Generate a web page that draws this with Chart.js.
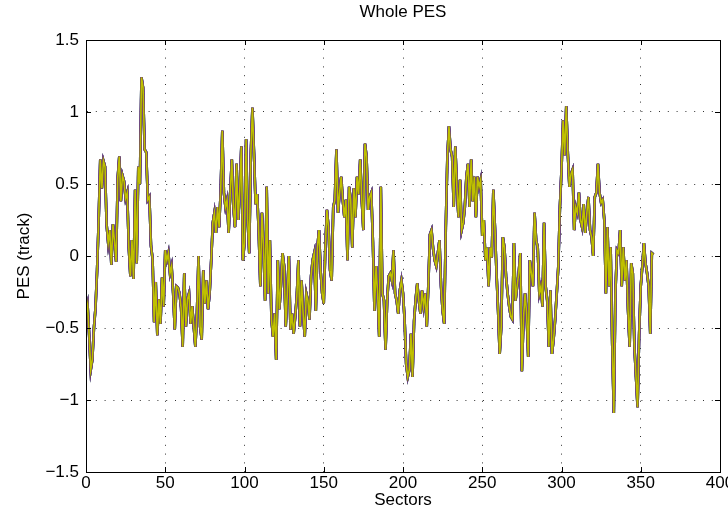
<!DOCTYPE html>
<html>
<head>
<meta charset="utf-8">
<script src="https://cdn.jsdelivr.net/npm/chart.js"></script>
<style>
  body { margin: 0; background: #fff; }
  #wrap { width: 728px; height: 529px; }
</style>
</head>
<body>
<div id="wrap"><canvas id="pes" width="728" height="529"></canvas></div>
<script>
// PES per sector (track units)
const pesTrack = [
  -0.40, -0.34, -0.55, -0.79, -0.72, -0.50, -0.36, -0.10, 0.25, 0.67,
  0.47, 0.66, 0.62, 0.22, 0.09, 0.18, -0.06, 0.22, 0.10, -0.04,
  0.54, 0.69, 0.38, 0.56, 0.52, 0.40, 0.44, 0.06, -0.14, 0.11,
  -0.16, 0.46, -0.05, 0.62, 0.50, 1.24, 1.17, 0.74, 0.72, 0.39,
  0.41, 0.07, -0.02, -0.46, -0.18, -0.55, -0.30, -0.47, -0.15, -0.35,
  0.04, -0.03, 0.02, -0.12, -0.07, -0.26, -0.51, -0.21, -0.22, -0.26,
  -0.36, -0.63, -0.12, -0.49, -0.30, -0.26, -0.47, -0.35, -0.49, -0.63,
  -0.40, 0.00, -0.49, -0.58, -0.10, -0.33, -0.17, -0.37, -0.26, -0.03,
  0.23, 0.30, 0.16, 0.34, 0.20, 0.46, 0.87, 0.44, 0.34, 0.39,
  0.16, 0.44, 0.67, 0.34, 0.20, 0.64, 0.25, 0.45, 0.76, -0.03,
  0.09, 0.81, 0.25, 0.02, 0.71, 1.03, 0.71, 0.36, 0.43, 0.16,
  -0.21, 0.30, 0.06, -0.31, 0.48, -0.26, 0.11, -0.44, -0.56, -0.40,
  -0.72, -0.03, -0.37, -0.20, 0.02, -0.07, -0.49, -0.26, 0.00, -0.51,
  -0.40, -0.54, -0.42, -0.28, -0.03, -0.49, -0.17, -0.40, -0.56, -0.26,
  -0.31, -0.44, -0.14, -0.03, 0.02, -0.38, 0.06, 0.18, -0.10, -0.26,
  -0.33, 0.06, 0.32, 0.20, -0.10, -0.17, 0.34, 0.39, 0.74, 0.30,
  0.44, 0.55, 0.39, 0.27, 0.39, -0.03, 0.48, 0.39, 0.06, 0.47,
  0.27, 0.55, 0.43, 0.67, 0.39, 0.18, 0.78, 0.69, 0.32, 0.41,
  0.44, 0.10, -0.38, -0.07, -0.26, -0.56, 0.48, -0.26, -0.31, -0.65,
  -0.31, -0.14, -0.12, -0.17, 0.04, -0.26, -0.31, -0.40, -0.24, -0.17,
  -0.26, -0.44, -0.75, -0.84, -0.79, -0.54, -0.84, -0.45, -0.30, -0.19,
  -0.31, -0.40, -0.24, -0.35, -0.26, -0.49, -0.20, 0.15, 0.18, 0.05,
  -0.03, -0.07, 0.02, 0.11, -0.21, -0.38, -0.47, 0.20, 0.69, 0.90,
  0.74, 0.69, 0.34, 0.76, 0.48, 0.27, 0.53, 0.18, 0.23, 0.34,
  0.55, 0.64, 0.34, 0.67, 0.38, 0.55, 0.27, 0.55, 0.48, 0.53,
  0.14, 0.25, -0.03, 0.06, -0.21, 0.06, -0.01, 0.46, 0.20, -0.12,
  -0.38, -0.68, -0.49, 0.13, 0.06, -0.14, -0.26, -0.35, -0.42, -0.44,
  0.09, -0.31, -0.21, -0.12, 0.02, -0.80, -0.44, -0.26, -0.40, -0.70,
  -0.03, -0.12, -0.21, 0.30, 0.11, 0.06, -0.26, -0.21, -0.35, 0.23,
  -0.21, -0.31, -0.63, -0.24, -0.68, -0.58, -0.44, -0.26, -0.07, 0.34,
  0.60, 0.94, 0.70, 1.04, 0.71, 0.48, 0.57, 0.60, 0.18, 0.34,
  0.30, 0.44, 0.25, 0.20, 0.36, 0.16, 0.30, 0.41, 0.18, 0.13,
  0.00, 0.41, 0.44, 0.64, 0.44, 0.37, 0.39, 0.25, -0.26, 0.20,
  -0.21, 0.06, -0.61, -1.09, -0.26, 0.04, 0.02, 0.18, -0.21, 0.06,
  -0.17, -0.03, -0.38, -0.63, -0.05, -0.12, -0.63, -0.84, -1.05, -0.54,
  -0.21, -0.07, 0.09, -0.05, -0.12, -0.21, -0.54, 0.02, 0.01
];

// one line per revolution, MATLAB default colour order (top one first)
const revColors = ['#bfbf00', '#404040', '#bf00bf', '#00bfbf', '#ff0000', '#008000', '#0000ff'];
const revWidths = [1.6, 2.1, 2.4, 2.6, 2.6, 2.6, 2.6];

const xTicks = [0, 50, 100, 150, 200, 250, 300, 350, 400];
const yTicks = [-1.5, -1, -0.5, 0, 0.5, 1, 1.5];

const font = { family: 'Liberation Sans, Arial, sans-serif', size: 17 };

const points = pesTrack.map((v, i) => ({ x: i, y: v }));

// full box + inward tick marks like a matlab axes
const boxPlugin = {
  id: 'box',
  afterDraw(chart) {
    const { ctx, chartArea: a, scales } = chart;
    ctx.save();
    ctx.strokeStyle = '#000';
    ctx.lineWidth = 1;
    ctx.beginPath();
    xTicks.forEach(t => {
      const px = Math.round(scales.x.getPixelForValue(t)) + 0.5;
      ctx.moveTo(px, a.bottom); ctx.lineTo(px, a.bottom - 5);
      ctx.moveTo(px, a.top); ctx.lineTo(px, a.top + 5);
    });
    yTicks.forEach(t => {
      const py = Math.round(scales.y.getPixelForValue(t)) + 0.5;
      ctx.moveTo(a.left, py); ctx.lineTo(a.left + 5, py);
      ctx.moveTo(a.right, py); ctx.lineTo(a.right - 5, py);
    });
    ctx.stroke();
    ctx.strokeRect(Math.round(a.left) + 0.5, Math.round(a.top) + 0.5,
      Math.round(a.right - a.left), Math.round(a.bottom - a.top));
    ctx.restore();
  }
};

new Chart(document.getElementById('pes').getContext('2d'), {
  type: 'line',
  data: {
    datasets: revColors.map((c, k) => ({
      data: points,
      borderColor: c,
      borderWidth: revWidths[k],
      pointRadius: 0,
      tension: 0,
      fill: false
    }))
  },
  options: {
    responsive: false,
    animation: false,
    layout: { padding: { right: 8 } },
    plugins: {
      legend: { display: false },
      tooltip: { enabled: false },
      title: {
        display: true,
        text: 'Whole PES',
        fullSize: false,
        color: '#000',
        font: { ...font, weight: 'normal' },
        padding: { top: 2, bottom: 17.6 }
      }
    },
    scales: {
      x: {
        type: 'linear',
        min: 0,
        max: 400,
        afterFit(s) { s.height = 57; s.paddingLeft = 0; s.paddingRight = 0; },
        afterBuildTicks(s) { s.ticks = xTicks.map(v => ({ value: v })); },
        ticks: { color: '#000', font, padding: 1, maxRotation: 0, autoSkip: false },
        grid: { color: '#333', drawTicks: false },
        border: { color: '#000', dash: [1, 7.8] },
        title: { display: true, text: 'Sectors', color: '#000', font, padding: { top: 0, bottom: 18 } }
      },
      y: {
        min: -1.5,
        max: 1.5,
        afterFit(s) { s.width = 86; },
        afterBuildTicks(s) { s.ticks = yTicks.map(v => ({ value: v })); },
        ticks: {
          color: '#000', font, padding: 7,
          callback: v => String(v).replace('-', '\u2212')
        },
        grid: { color: '#333', drawTicks: false },
        border: { color: '#000', dash: [1, 7.8] },
        title: { display: true, text: 'PES (track)', color: '#000', font, padding: { top: 14, bottom: 0 } }
      }
    }
  },
  plugins: [boxPlugin]
});
</script>
</body>
</html>
